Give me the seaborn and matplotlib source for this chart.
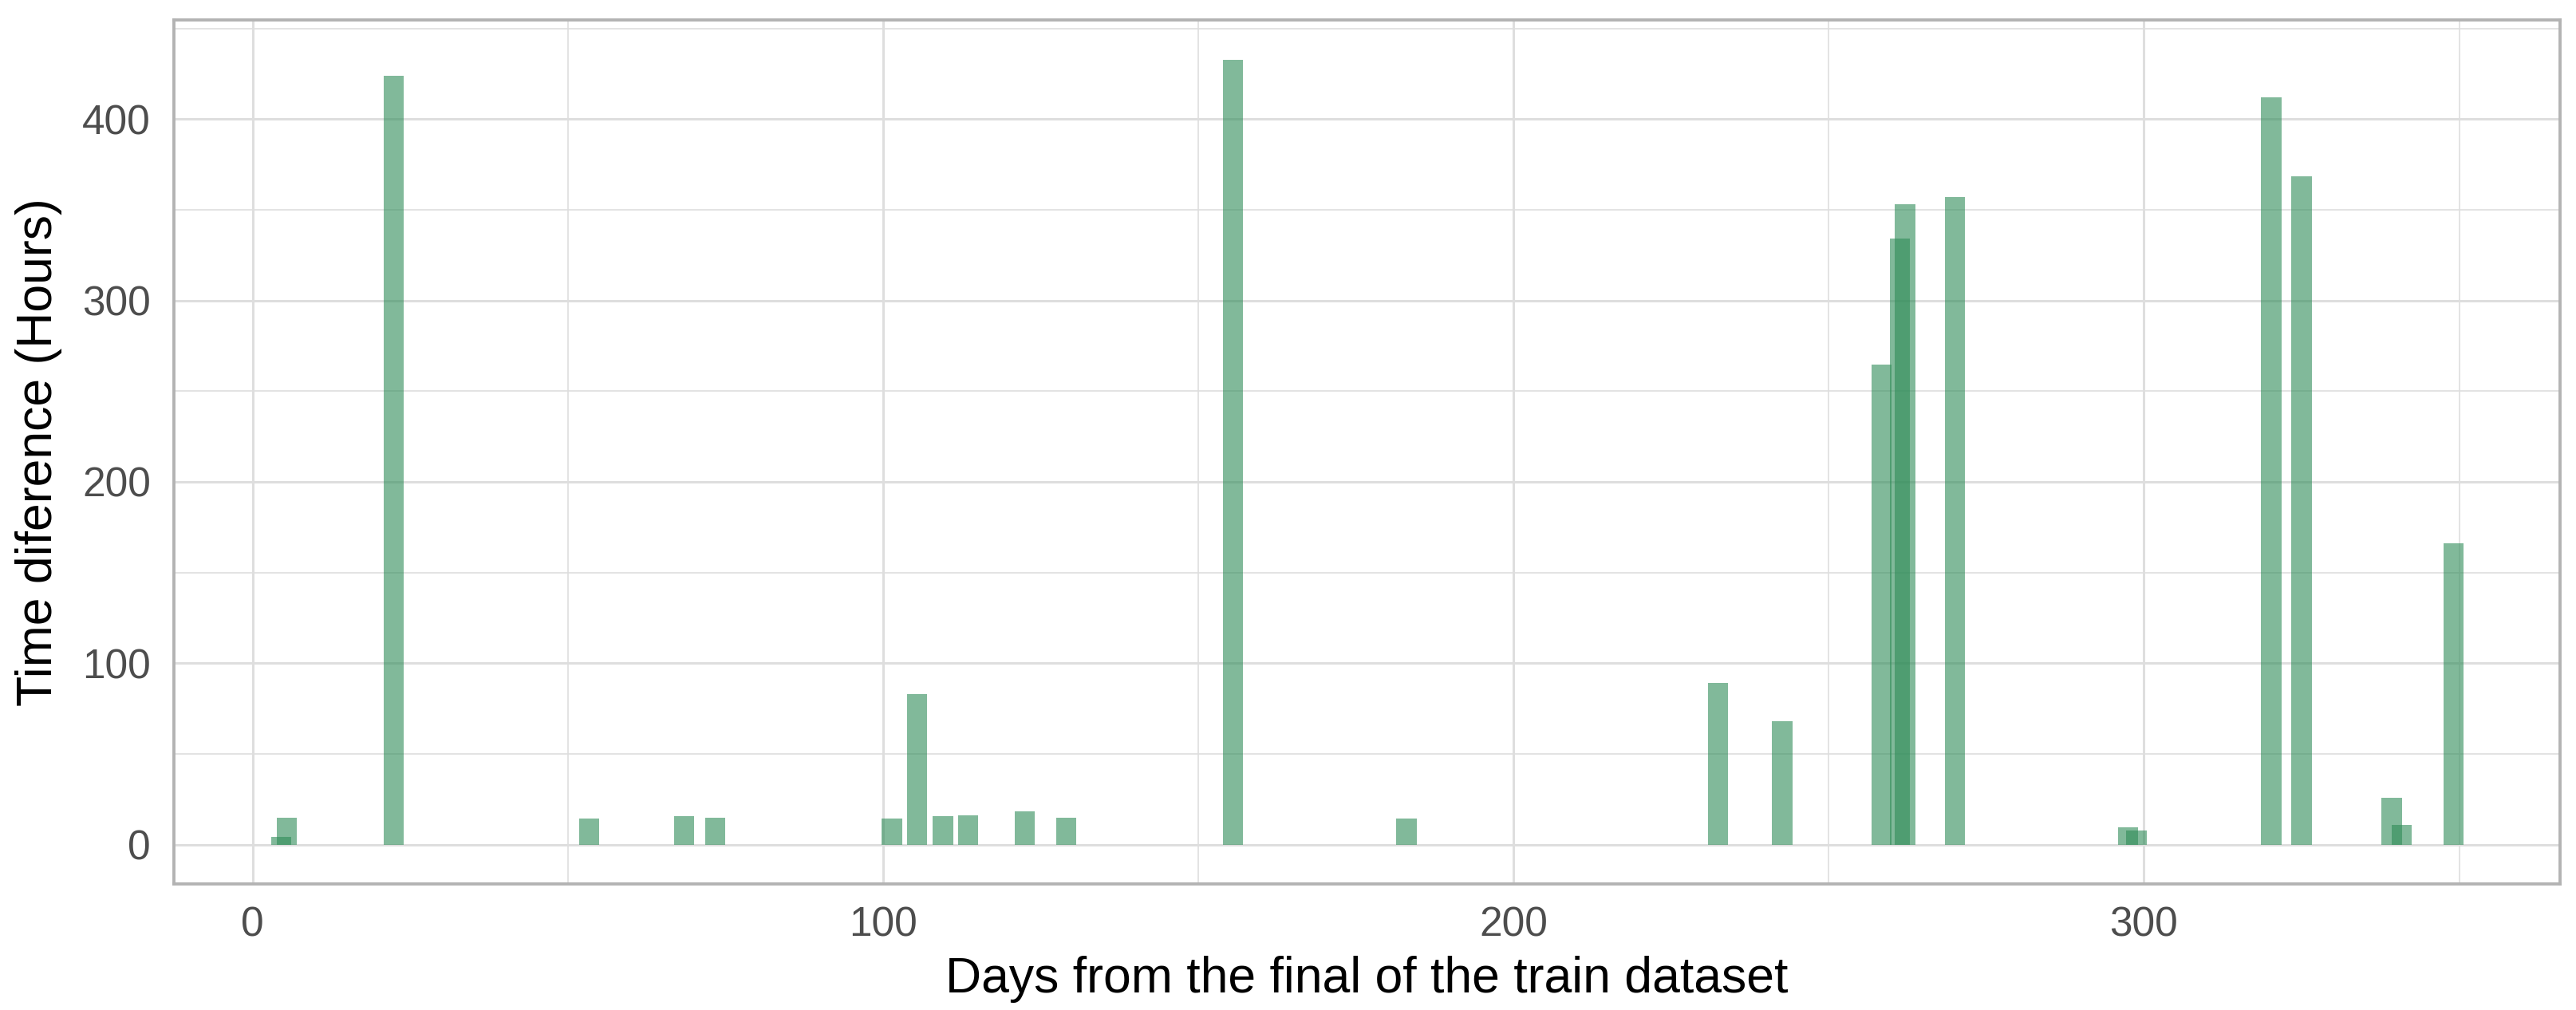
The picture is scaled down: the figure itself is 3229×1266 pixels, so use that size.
import numpy as np
import pandas as pd
import seaborn as sns
import matplotlib.pyplot as plt
from matplotlib.ticker import MultipleLocator

# days after the end of the train set and the gap (hours) found there
days = [4.5, 5.4, 22.4, 53.4, 68.4, 73.4, 101.4, 105.4, 109.5, 113.5, 122.5, 129.0,
        155.5, 183.0, 232.4, 242.6, 258.4, 261.3, 262.1, 270.0, 297.5, 298.8,
        320.2, 325.0, 339.3, 340.9, 349.1]
hours = [4.3, 15.0, 424, 14.4, 15.8, 14.9, 14.4, 83, 15.8, 16.2, 18.4, 14.9,
         432.5, 14.4, 89, 67.8, 264.5, 334, 353, 357, 9.6, 7.7,
         412, 368.5, 25.8, 10.8, 166]
BAR_W = 3.2

df = pd.DataFrame({"days": days, "hours": hours})

sns.set_style("white")
plt.rcParams['font.family'] = ['Liberation Sans', 'DejaVu Sans']

fig, ax = plt.subplots(figsize=(16.15, 6.33), dpi=200)
fig.subplots_adjust(left=0.0675, right=0.9935, top=0.980, bottom=0.125)

# native scale width is a fraction of the smallest gap between x values
min_gap = np.diff(np.sort(df["days"].unique())).min()
sns.barplot(data=df, x="days", y="hours", native_scale=True, width=BAR_W / min_gap,
            color="seagreen", saturation=1, alpha=0.6, linewidth=0, errorbar=None,
            ax=ax, zorder=3)

ax.set_xlim(-12.5, 366)
ax.set_ylim(-21.6, 454.5)
ax.xaxis.set_major_locator(MultipleLocator(100))
ax.xaxis.set_minor_locator(MultipleLocator(50))
ax.yaxis.set_major_locator(MultipleLocator(100))
ax.yaxis.set_minor_locator(MultipleLocator(50))

ax.grid(which="major", color="#DEDEDE", linewidth=1.1, zorder=0)
ax.grid(which="minor", color="#DEDEDE", linewidth=0.6, zorder=0)
ax.set_axisbelow(True)

for sp in ax.spines.values():
    sp.set_color("#B3B3B3")
    sp.set_linewidth(1.4)

ax.tick_params(which="major", length=6, width=1.1, color="#B3B3B3",
               labelsize=18.5, labelcolor="#4D4D4D")
ax.tick_params(axis="x", which="major", pad=4)
ax.tick_params(axis="y", which="major", pad=4.5)
ax.tick_params(which="minor", length=0)

ax.set_xlabel("Days from the final of the train dataset", fontsize=22.5, color="black", labelpad=5)
ax.set_ylabel("Time diference (Hours)", fontsize=22.5, color="black", labelpad=9)

fig.savefig("out.png", dpi=200, facecolor="white")
